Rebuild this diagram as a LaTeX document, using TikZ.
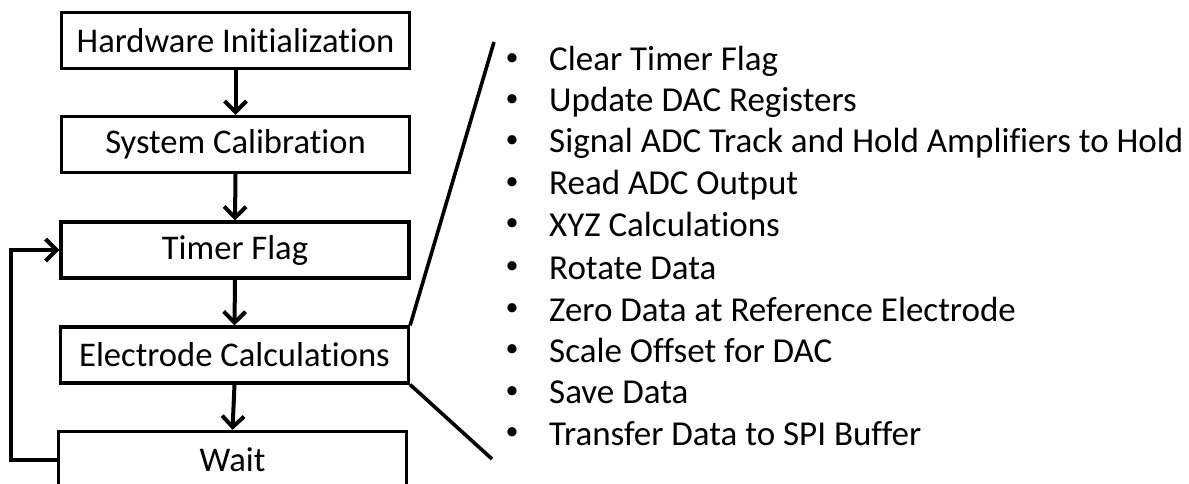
\documentclass[tikz,border=0pt]{standalone}
\usepackage{fontspec}
\setmainfont{Carlito}[Ligatures={NoCommon,NoRare,NoContextual}]
\usetikzlibrary{arrows.meta}
\begin{document}
\begin{tikzpicture}[x=1pt,y=-1pt,
  box/.style={draw,line width=3.2pt,minimum width=348pt,minimum height=56pt,inner sep=0pt,font=\fontsize{34.6}{40}\selectfont},
  flow/.style={line width=4pt,-{Straight Barb[length=11pt,width=22pt,line width=4pt]}},
  item/.style={anchor=base west,inner sep=0pt,font=\fontsize{35}{40}\selectfont},
  dot/.style={anchor=center,inner sep=0pt,font=\fontsize{26}{30}\selectfont},
  ln/.style={line width=3.6pt}]
\useasboundingbox (0,0) rectangle (1189,484);
\clip (0,0) rectangle (1189,484);
\node[box] (b1) at (235.5,40.5) {Hardware Initialization};
\node[box] (b2) at (235.5,144.5) {System Calibration};
\node[box] (b3) at (235,250) {Timer Flag};
\node[box] (b4) at (234.5,355) {Electrode Calculations};
\node[box] (b5) at (232.5,459.5) {Wait};
\draw[flow] (b1.south) -- (b2.north);
\draw[flow] (b2.south) -- (b3.north);
\draw[flow] (b3.south) -- (b4.north);
\draw[flow] (b4.south) -- (b5.north);
\draw[flow] (b5.west) -- ++(-46,0) |- (b3.west);
\coordinate (ltop) at (494,42);
\coordinate (lbot) at (492,459);
\draw[ln] (b4.north east) -- (ltop);
\draw[ln] (b4.south east) -- (lbot);
\foreach \t/\y [count=\i from 0] in {Clear Timer Flag/59.5,Update DAC Registers/101,Signal ADC Track and Hold Amplifiers to Hold/142,Read ADC Output/183.5,XYZ Calculations/225,Rotate Data/268,Zero Data at Reference Electrode/310,Scale Offset for DAC/351,Save Data/392.5,Transfer Data to SPI Buffer/434}{
  \node[dot] (d\i) at (512,\y) {•};
  \node[item] (t\i) at (549,\y+11) {\t};
}
\end{tikzpicture}
\end{document}
